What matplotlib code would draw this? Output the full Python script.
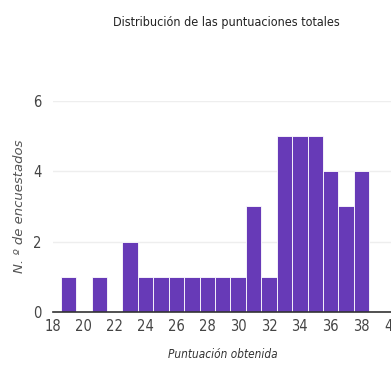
import matplotlib
matplotlib.use("Agg")
import matplotlib.pyplot as plt

scores = [19, 20, 21, 22, 23, 24, 25, 26, 27, 28, 29, 30, 31, 32, 33, 34, 35, 36, 37, 38]
counts = [1, 0, 1, 0, 2, 1, 1, 1, 1, 1, 1, 1, 3, 1, 5, 5, 5, 4, 3, 4]
xticks = [18, 20, 22, 24, 26, 28, 30, 32, 34, 36, 38, 40]
yticks = [0, 2, 4, 6]

fig = plt.figure(figsize=(3.91, 3.71), dpi=100)
ax = fig.add_axes([0.1355, 0.159, 0.868, 0.569])

ax.bar(scores, counts, width=1.0, color="#673ab7", edgecolor="#ffffff", linewidth=0.6, zorder=3)

ax.set_xlim(18, 40)
ax.set_ylim(0, 6)
ax.set_xticks(xticks)
ax.set_yticks(yticks)
ax.grid(axis="y", color="#eeeeee", linewidth=1, zorder=0)
for s in ["top", "right", "left"]:
    ax.spines[s].set_visible(False)
ax.spines["bottom"].set_color("#333333")
ax.spines["bottom"].set_linewidth(1.2)
ax.spines["bottom"].set_zorder(4)
ax.tick_params(length=0, labelsize=10.5, labelcolor="#444444")
ax.tick_params(axis="x", pad=5)
ax.tick_params(axis="y", pad=8)
for lab in ax.get_xticklabels() + ax.get_yticklabels():
    lab.set_fontstretch("condensed")

ax.set_xlabel("Puntuación obtenida", fontsize=8.5, style="italic", color="#333333",
              fontstretch="condensed", labelpad=10)
ax.set_ylabel("N. º de encuestados", fontsize=9.5, style="italic", color="#555555",
              labelpad=5)
fig.text(0.578, 0.94, "Distribución de las puntuaciones totales", ha="center", va="center",
         fontsize=9, color="#222222", fontstretch="condensed")

fig.savefig("out.png", dpi=100)
